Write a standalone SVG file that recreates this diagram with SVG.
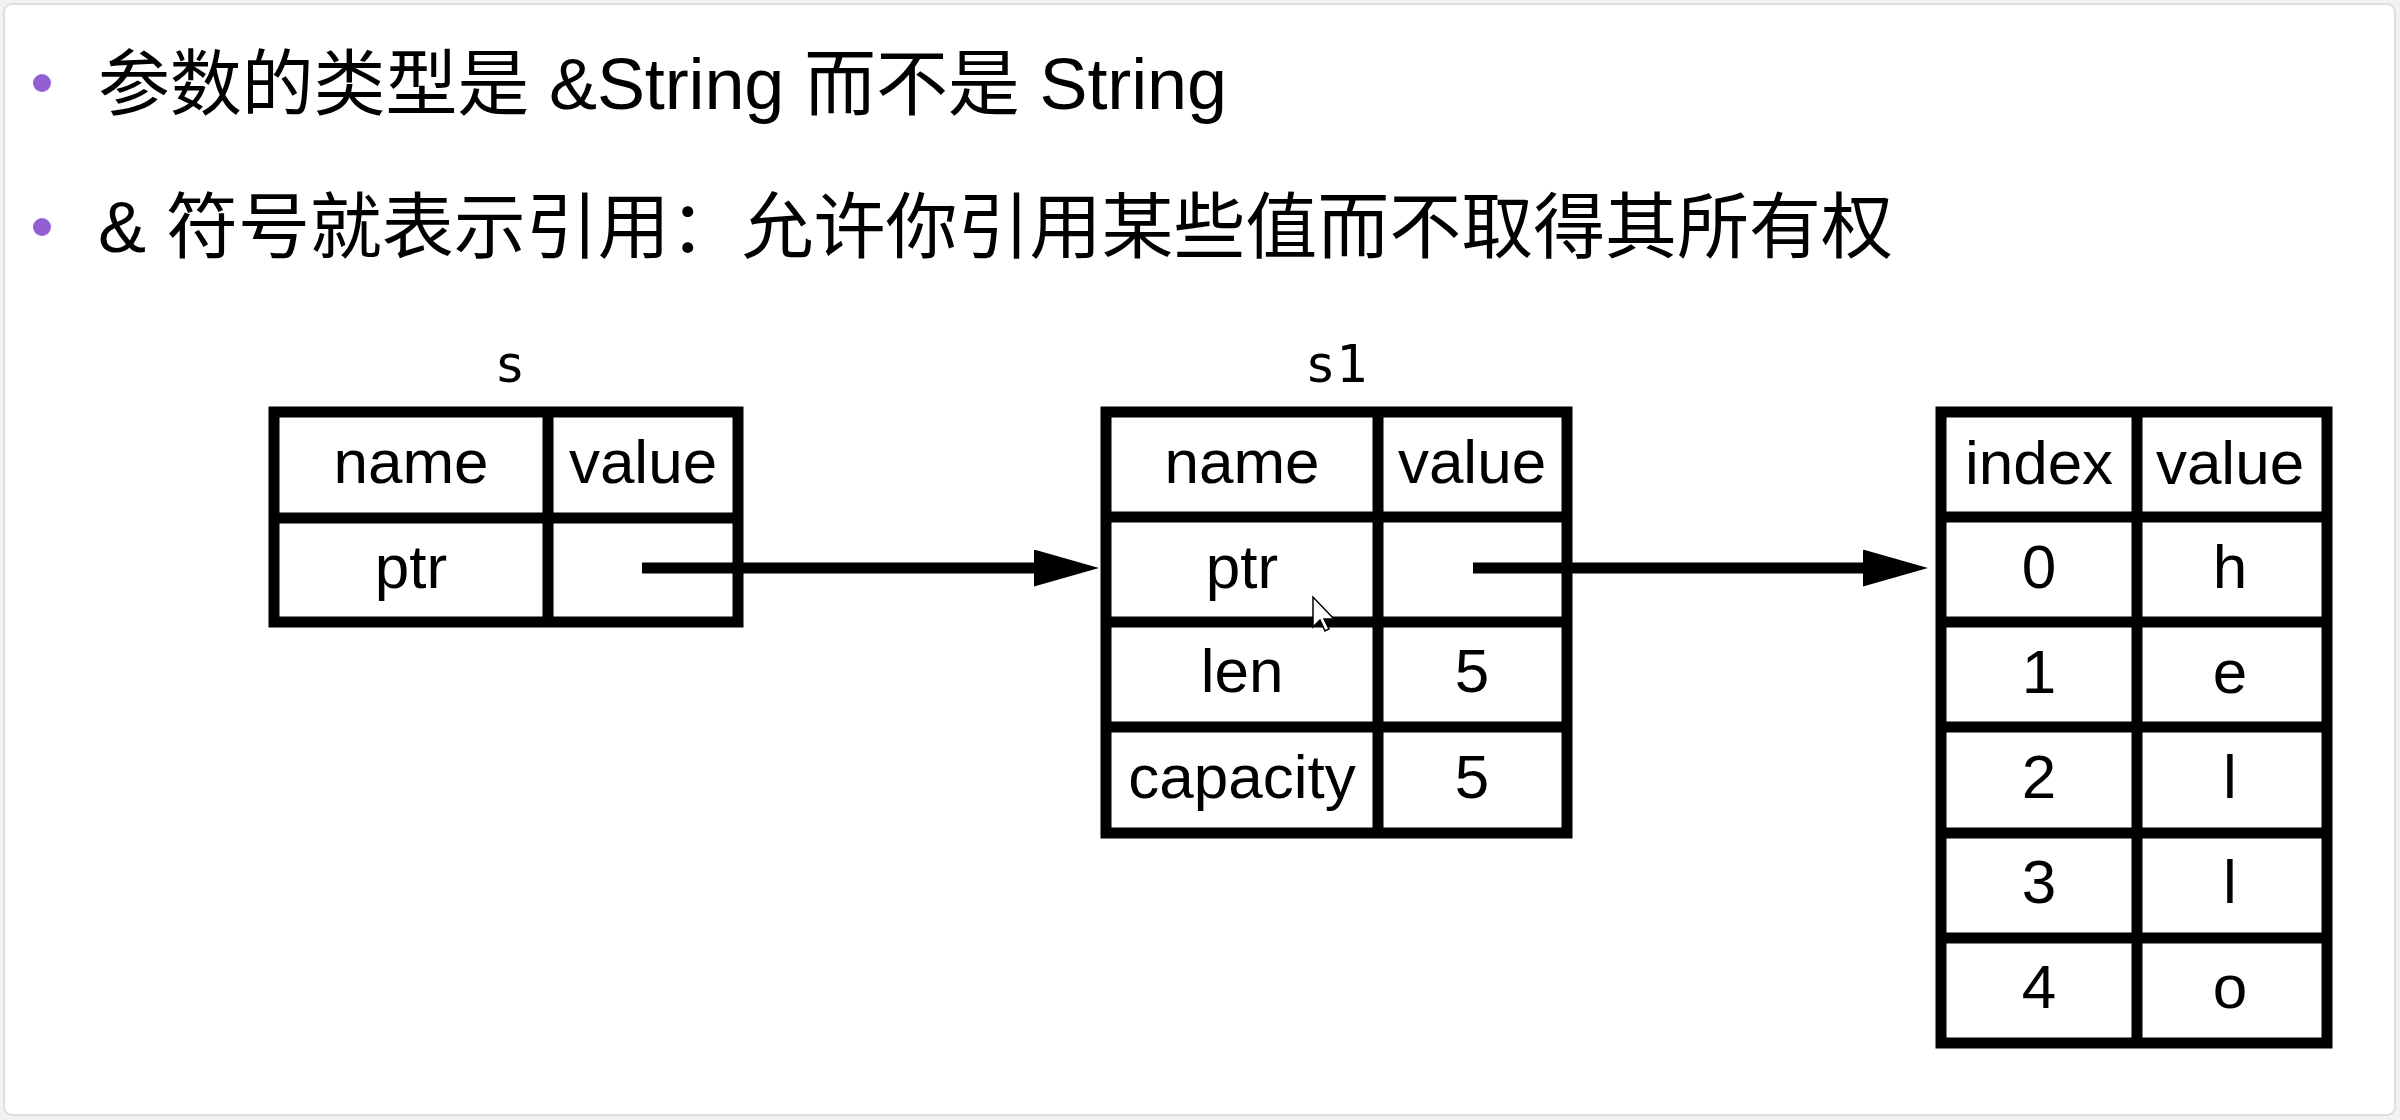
<svg xmlns="http://www.w3.org/2000/svg" width="2400" height="1120" viewBox="0 0 2400 1120">
<style>
.t{font-family:"Liberation Sans","Noto Sans CJK SC",sans-serif;font-size:72px;fill:#000}
.c{font-family:"Liberation Sans",sans-serif;font-size:62px;fill:#000;text-anchor:middle}
.lbl{font-family:"DejaVu Sans Mono",monospace;font-size:52px;fill:#000;text-anchor:middle}
.box{fill:#fff;stroke:#000;stroke-width:11}
.ln{stroke:#000;stroke-width:11;fill:none}
.arr{stroke:#000;stroke-width:11;fill:none;marker-end:url(#ah)}
.bul{fill:#9260d0}
</style>
<defs>
<marker id="ah" markerUnits="userSpaceOnUse" markerWidth="66" markerHeight="38" refX="6" refY="18.5" orient="auto" viewBox="0 0 66 38">
<path d="M0,0 L65,18.5 L0,37 Z" fill="#000"/>
</marker>
</defs>
<rect x="0" y="0" width="2400" height="1120" fill="#f2f2f2"/>
<rect x="4" y="4" width="2391" height="1111" rx="8" fill="#fff" stroke="#dedede" stroke-width="2"/>
<g id="bullets">
<circle class="bul" cx="42" cy="83" r="9"/>
<circle class="bul" cx="42" cy="227" r="9"/>
<text class="t" x="98" y="109" textLength="1129" lengthAdjust="spacing">参数的类型是 &amp;String 而不是 String</text>
<text class="t" x="98" y="252" textLength="1795" lengthAdjust="spacing">&amp; 符号就表示引用：允许你引用某些值而不取得其所有权</text>
</g>
<g id="table-s">
<text class="lbl" x="510" y="382">s</text>
<rect class="box" x="274" y="412" width="464" height="210"/>
<line class="ln" x1="274" y1="518" x2="738" y2="518"/>
<line class="ln" x1="548" y1="412" x2="548" y2="622"/>
<text class="c" x="411" y="483">name</text>
<text class="c" x="643" y="483">value</text>
<text class="c" x="411" y="588">ptr</text>
</g>
<g id="table-s1">
<text class="lbl" x="1336" y="382">s1</text>
<rect class="box" x="1106" y="412" width="461" height="421"/>
<line class="ln" x1="1106" y1="517" x2="1567" y2="517"/>
<line class="ln" x1="1106" y1="622" x2="1567" y2="622"/>
<line class="ln" x1="1106" y1="727" x2="1567" y2="727"/>
<line class="ln" x1="1378" y1="412" x2="1378" y2="833"/>
<text class="c" x="1242" y="483">name</text>
<text class="c" x="1472" y="483">value</text>
<text class="c" x="1242" y="588">ptr</text>
<text class="c" x="1242" y="692">len</text>
<text class="c" x="1472" y="692">5</text>
<text class="c" x="1242" y="798">capacity</text>
<text class="c" x="1472" y="798">5</text>
</g>
<g id="table-heap">
<rect class="box" x="1941" y="412" width="386" height="631"/>
<line class="ln" x1="1941" y1="517" x2="2327" y2="517"/>
<line class="ln" x1="1941" y1="622" x2="2327" y2="622"/>
<line class="ln" x1="1941" y1="727" x2="2327" y2="727"/>
<line class="ln" x1="1941" y1="833" x2="2327" y2="833"/>
<line class="ln" x1="1941" y1="938" x2="2327" y2="938"/>
<line class="ln" x1="2137" y1="412" x2="2137" y2="1043"/>
<text class="c" x="2039" y="484">index</text>
<text class="c" x="2230" y="484">value</text>
<text class="c" x="2039" y="588">0</text>
<text class="c" x="2230" y="588">h</text>
<text class="c" x="2039" y="693">1</text>
<text class="c" x="2230" y="693">e</text>
<text class="c" x="2039" y="798">2</text>
<text class="c" x="2230" y="798">l</text>
<text class="c" x="2039" y="903">3</text>
<text class="c" x="2230" y="903">l</text>
<text class="c" x="2039" y="1008">4</text>
<text class="c" x="2230" y="1008">o</text>
</g>
<g id="connectors">
<line class="arr" x1="642" y1="568" x2="1040" y2="568"/>
<line class="arr" x1="1473" y1="568" x2="1869" y2="568"/>
</g>
<path d="M1313,597 L1313,627 L1320,620 L1325,631 L1329,629 L1324,619 L1334,619 Z" fill="#fff" stroke="#000" stroke-width="1.5"/>
</svg>
